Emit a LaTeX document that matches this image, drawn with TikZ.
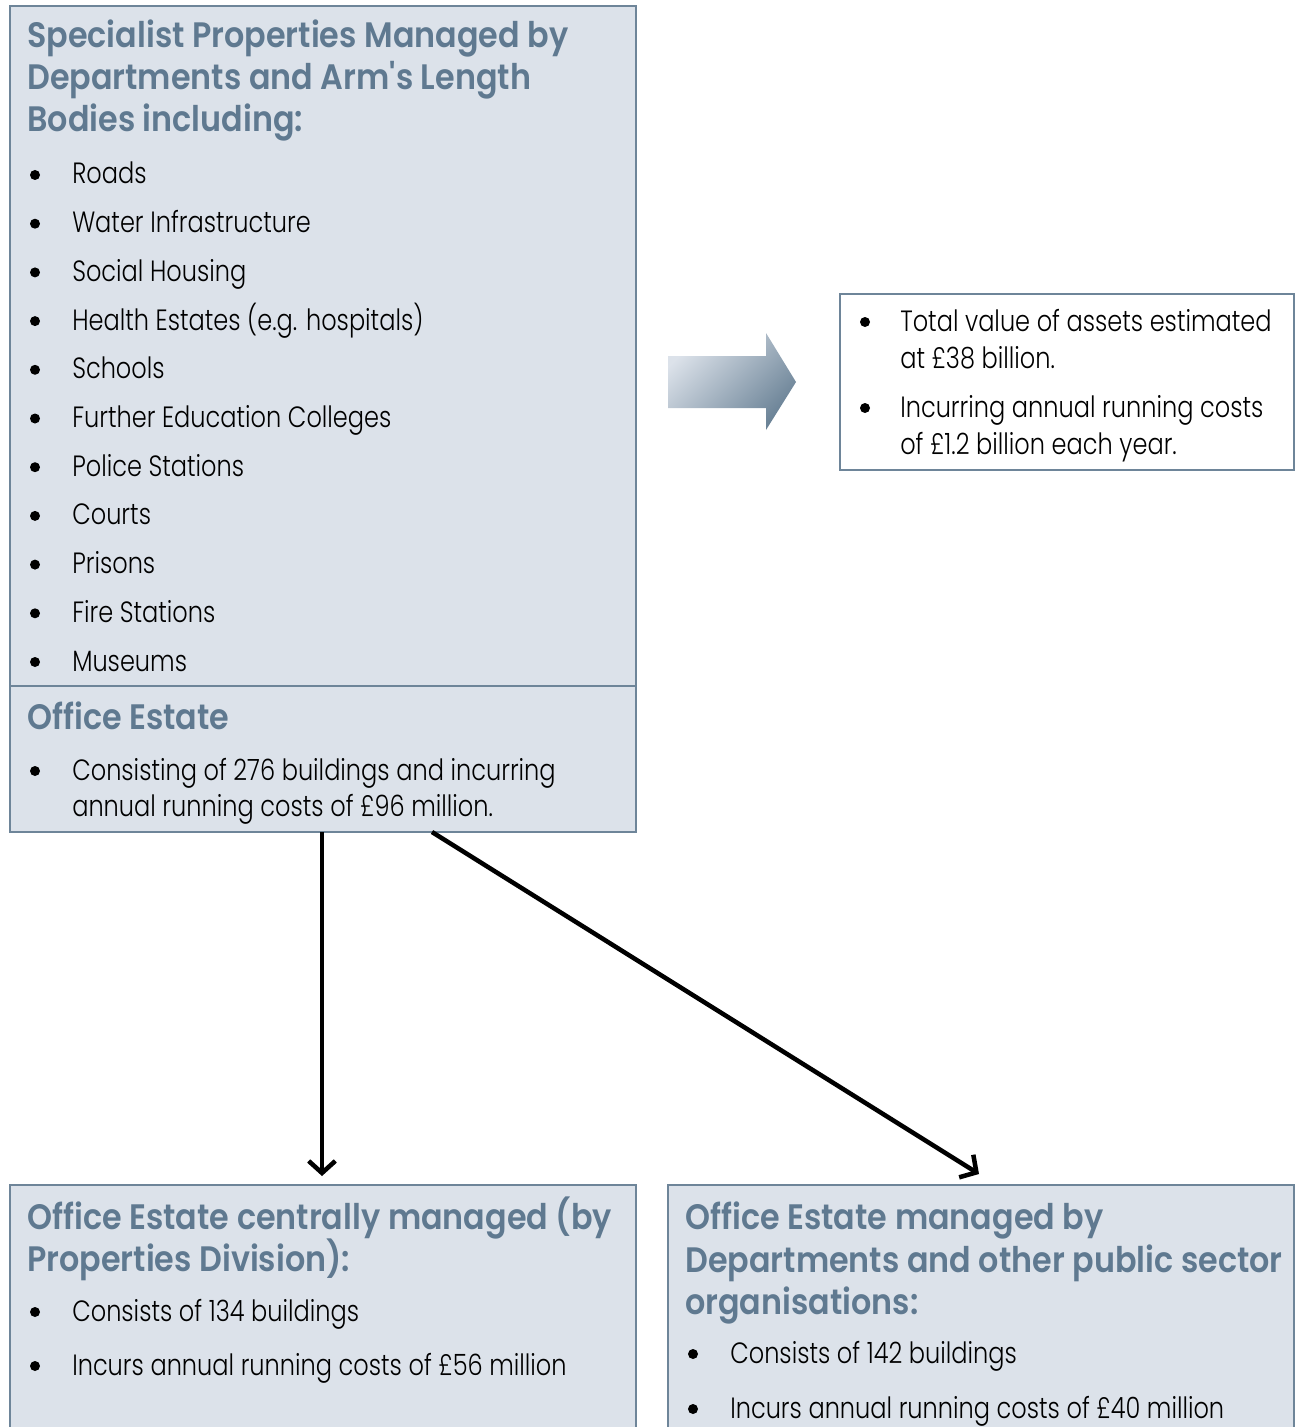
\documentclass[tikz,border=0pt]{standalone}
\usepackage{fontspec}
\newfontfamily\titlefont{Poppins SemiBold}[FakeStretch=0.9]
\newfontfamily\bodyfont{Poppins Light}[FakeStretch=0.82]
\usetikzlibrary{arrows.meta,calc}

\definecolor{panelfill}{HTML}{DCE2EA}
\definecolor{panelline}{HTML}{6E8599}
\definecolor{titleblue}{HTML}{5F7990}
\definecolor{arrowdark}{HTML}{6A8296}

\tikzset{
    panel/.style={fill=panelfill, draw=panelline, line width=2.2pt},
    heading/.style={font=\titlefont\fontsize{26.5}{30}\selectfont, text=titleblue, anchor=base west, inner sep=0pt},
    entry/.style={font=\bodyfont\fontsize{22}{25}\selectfont, text=black, anchor=base west, inner sep=0pt},
    dot/.style={circle, fill=black, inner sep=0pt, minimum size=7.5pt},
    flow/.style={line width=3.4pt, -{Straight Barb[length=9pt, width=20pt]}}
}

\begin{document}
\begin{tikzpicture}[x=0.75pt, y=-0.75pt]
    \useasboundingbox (0,0) rectangle (1295,1427);

    % Define the corners of the top panel
    \coordinate (TL) at (10,6);
    \coordinate (BR) at (636,832);
    \coordinate (split) at (10,686);

    % Draw the top panel with its divider
    \draw[panel] (TL) rectangle (BR);
    \draw[panelline, line width=2.2pt] (split) -- (636,686);

    % Specialist properties heading
    \node[heading] (spec-a) at (27,48) {Specialist Properties Managed by};
    \node[heading] (spec-b) at (27,90) {Departments and Arm's Length};
    \node[heading] (spec-c) at (27,132) {Bodies including:};

    % The list of specialist properties
    \foreach \txt [count=\i from 0] in {Roads, Water Infrastructure, Social Housing,
        Health Estates (e.g. hospitals), Schools, Further Education Colleges,
        Police Stations, Courts, Prisons, Fire Stations, Museums} {
        \node[dot] (dot-\i) at (35,175+48.7*\i) {};
        \node[entry] (spec-\i) at (72,184+48.7*\i) {\txt};
    }

    % Office estate section
    \node[heading] (office) at (27,729) {Office Estate};
    \node[dot] (dot-o) at (35,771) {};
    \node[entry] (office-a) at (72,780) {Consisting of 276 buildings and incurring};
    \node[entry] (office-b) at (72,816) {annual running costs of £96 million.};

    % Shaded arrow to the summary
    \shade[top color=panelfill, bottom color=arrowdark, shading angle=45]
        (668,356) -- (766,356) -- (766,333) -- (796,382) -- (766,430)
        -- (766,408) -- (668,408) -- cycle;

    % Summary panel
    \draw[panelline, line width=2.2pt, fill=white] (840,294) rectangle (1294,470);
    \node[dot] (dot-s1) at (865,322) {};
    \node[entry] (sum-a) at (900,331) {Total value of assets estimated};
    \node[entry] (sum-b) at (900,368) {at £38 billion.};
    \node[dot] (dot-s2) at (865,408) {};
    \node[entry] (sum-c) at (900,417) {Incurring annual running costs};
    \node[entry] (sum-d) at (900,454) {of £1.2 billion each year.};

    % Arrows down to the two office panels
    \coordinate (start-l) at (322,832);
    \coordinate (start-r) at (432,832);
    \coordinate (end-l) at (322,1176);
    \coordinate (end-r) at (979,1174);
    \draw[flow] (start-l) -- (end-l);
    \draw[flow] (start-r) -- (end-r);

    % Bottom left panel
    \fill[panelfill] (10,1185) rectangle (636,1427);
    \draw[panelline, line width=2.2pt] (10,1430) -- (10,1185) -- (636,1185) -- (636,1430);
    \node[heading] (central-a) at (27,1229) {Office Estate centrally managed (by};
    \node[heading] (central-b) at (27,1271) {Properties Division):};
    \node[dot] (dot-c1) at (35,1312) {};
    \node[entry] (central-c) at (72,1321) {Consists of 134 buildings};
    \node[dot] (dot-c2) at (35,1366) {};
    \node[entry] (central-d) at (72,1375) {Incurs annual running costs of £56 million};

    % Bottom right panel
    \fill[panelfill] (668,1185) rectangle (1294,1427);
    \draw[panelline, line width=2.2pt] (668,1430) -- (668,1185) -- (1294,1185) -- (1294,1430);
    \node[heading] (dept-a) at (685,1229) {Office Estate managed by};
    \node[heading] (dept-b) at (685,1272) {Departments and other public sector};
    \node[heading] (dept-c) at (685,1314) {organisations:};
    \node[dot] (dot-d1) at (693,1354) {};
    \node[entry] (dept-d) at (730,1363) {Consists of 142 buildings};
    \node[dot] (dot-d2) at (693,1409) {};
    \node[entry] (dept-e) at (730,1418) {Incurs annual running costs of £40 million};
\end{tikzpicture}
\end{document}
